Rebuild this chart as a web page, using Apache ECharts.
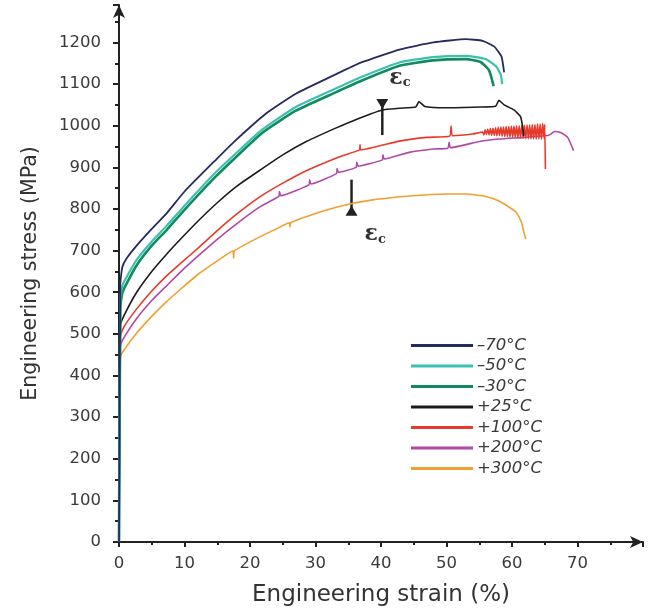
<!DOCTYPE html>
<html>
<head>
<meta charset="utf-8">
<script src="https://cdn.jsdelivr.net/npm/echarts@6/dist/echarts.min.js"></script>
<style>
  html, body { margin: 0; padding: 0; background: #fff; }
  #chart { width: 649px; height: 612px; }
</style>
</head>
<body>
<div id="chart"></div>
<script>
// Series names and colours (legend order)
const seriesNames = ['\u201370\u00B0C', '\u201350\u00B0C', '\u201330\u00B0C', '+25\u00B0C', '+100\u00B0C', '+200\u00B0C', '+300\u00B0C'];
const seriesColors = ['#262b5e', '#3cc0b4', '#138a5e', '#1c1c1c', '#e83a2a', '#b048a8', '#f0a030'];
const seriesWidths = [1.8, 2.2, 2.6, 1.6, 1.6, 1.6, 1.6];

// [strain %, stress MPa]
const minus70 = [[0,0],[0.2,620],[0.5,660],[1.2,682],[2.7,712],[5,752],[7.3,790],[10,842],[14.9,920],[17.6,962],[22.5,1030],[27,1077],[32.9,1122],[37,1152],[42.8,1183],[48,1200],[53,1208],[55.5,1204],[57.3,1190],[58.4,1166],[58.8,1128]];
const minus50 = [[0,0],[0.2,585],[0.5,615],[1,632],[2.7,678],[5,722],[7.3,760],[10,808],[14.9,890],[21.8,990],[27,1045],[32.9,1088],[37,1117],[42.8,1152],[48,1165],[53,1168],[56,1160],[57.6,1142],[58.3,1122],[58.5,1100]];
const minus30 = [[0,0],[0.2,560],[0.5,598],[1,616],[2.7,665],[5,712],[7.3,750],[10,798],[14.9,880],[21.8,982],[27,1036],[32.9,1079],[37,1108],[42.8,1144],[48,1157],[53,1160],[55.2,1153],[56.5,1133],[57.2,1095]];
const plus25 = [[0,0],[0.2,520],[0.8,545],[2.7,600],[5,650],[7.3,692],[9.3,726],[12,770],[15,815],[18,855],[21.5,893],[25,930],[28.6,962],[32.9,993],[36.5,1017],[40.2,1038],[42.8,1042],[45.3,1045],[45.8,1058],[46.7,1046],[50,1043],[55,1045],[57.5,1047],[58,1061],[58.8,1050],[60.3,1038],[61.3,1022],[61.6,1000],[61.8,975]];
const plus100 = [[0,0],[0.2,495],[0.8,518],[2.7,560],[5,603],[7.3,640],[9.3,668],[12,705],[15,748],[18,788],[21.5,829],[25,862],[28.6,892],[33.6,925],[36.7,942],[36.8,954],[36.9,942],[42.8,963],[47,972],[50.5,975],[50.7,999],[50.9,976],[54,980],[55.5,985],
  [55.7,978],[55.9,990],[56.1,979],[56.3,992],[56.5,978],[56.7,993],[56.9,977],[57.1,994],[57.3,977],[57.5,995],[57.7,976],[57.9,996],[58.1,976],[58.3,997],[58.5,975],[58.7,997],[58.9,974],[59.1,998],[59.3,974],[59.5,998],[59.7,973],[59.9,999],[60.1,972],[60.3,999],[60.5,972],[60.7,1000],[60.9,971],[61.1,1000],[61.3,970],[61.5,1001],[61.7,970],[61.9,1001],[62.1,969],[62.3,1002],[62.5,969],[62.7,1002],[62.9,968],[63.1,1003],[63.3,968],[63.5,1003],[63.7,968],[63.9,1004],[64.1,968],[64.3,1004],[64.5,968],[64.7,1005],[64.9,970],[65,1003],[65.1,896]];
const plus200 = [[0,0],[0.2,470],[0.8,492],[2.7,537],[5,580],[7.3,616],[10,658],[14.9,726],[18,765],[21.5,805],[24.4,830],[24.5,842],[24.7,832],[29,858],[29.1,870],[29.3,860],[33.2,885],[33.3,897],[33.5,888],[36.2,900],[36.3,912],[36.5,903],[40.2,918],[40.3,930],[40.5,920],[44.3,936],[48,944],[50.2,946],[50.4,960],[50.6,947],[55,962],[58,968],[62,972],[65.6,977],[66.5,986],[67.5,983],[68.5,972],[69.4,940]];
const plus300 = [[0,0],[0.2,445],[0.8,462],[2.7,502],[5,542],[7.3,578],[9.3,606],[12,642],[14.9,674],[17.4,699],[17.5,682],[17.6,699],[21.5,733],[24,752],[26,767],[26.1,757],[26.2,767],[29,784],[33.6,806],[38,820],[44.3,831],[50,836],[53,836],[56,830],[58,819],[60,800],[60.6,793],[61.4,770],[61.8,745],[62.1,728]];

// critical strain markers: [strain, stress at tip, direction]
const ecMarks = [[40.2, 1040, 'down'], [35.5, 808, 'up']];

const allData = [minus70, minus50, minus30, plus25, plus100, plus200, plus300];

const FONT = 'DejaVu Sans, Verdana, sans-serif';

const chart = echarts.init(document.getElementById('chart'));

const option = {
  backgroundColor: '#fff',
  animation: false,
  grid: {
    left: 119,
    right: 6,
    top: 5,
    bottom: 68
  },
  legend: {
    orient: 'vertical',
    left: 406,
    top: 332,
    icon: 'rect',
    itemWidth: 62,
    itemHeight: 3,
    itemGap: 3.5,
    data: seriesNames,
    textStyle: {
      fontFamily: FONT,
      fontStyle: 'italic',
      fontSize: 16.5,
      lineHeight: 17,
      color: '#3a3a3a',
      padding: [0, 0, 0, -1]
    }
  },
  xAxis: {
    type: 'value',
    min: 0,
    max: 80,
    interval: 10,
    name: 'Engineering strain (%)',
    nameLocation: 'middle',
    nameGap: 42,
    nameTextStyle: {
      fontFamily: FONT,
      fontSize: 23,
      color: '#333'
    },
    axisLine: {
      symbol: ['none', 'arrow'],
      symbolSize: [9, 13],
      lineStyle: { color: '#222', width: 2 }
    },
    axisTick: { inside: false, length: 5, lineStyle: { color: '#222', width: 2 } },
    minorTick: { show: true, splitNumber: 2, length: 3, lineStyle: { color: '#222', width: 2 } },
    axisLabel: {
      showMaxLabel: false,
      margin: 13,
      formatter: v => String(v),
      fontFamily: FONT,
      fontSize: 16.5,
      color: '#3a3a3a'
    },
    splitLine: { show: false }
  },
  yAxis: {
    type: 'value',
    min: 0,
    max: 1290,
    interval: 100,
    name: 'Engineering stress (MPa)',
    nameLocation: 'middle',
    nameGap: 78,
    nameTextStyle: {
      fontFamily: FONT,
      fontSize: 20.5,
      color: '#333'
    },
    axisLine: {
      symbol: ['none', 'arrow'],
      symbolSize: [9, 13],
      lineStyle: { color: '#222', width: 2 }
    },
    axisTick: { inside: false, length: 6, lineStyle: { color: '#222', width: 2 } },
    minorTick: { show: true, splitNumber: 2, length: 4, lineStyle: { color: '#222', width: 2 } },
    axisLabel: {
      showMaxLabel: false,
      margin: 18,
      formatter: v => String(v),
      fontFamily: FONT,
      fontSize: 16.5,
      color: '#3a3a3a'
    },
    splitLine: { show: false }
  },
  series: seriesNames.map((name, i) => ({
    name: name,
    type: 'line',
    data: allData[i],
    showSymbol: false,
    symbol: 'none',
    smooth: 0.15,
    z: 10 - i,
    lineStyle: { color: seriesColors[i], width: seriesWidths[i] },
    itemStyle: { color: seriesColors[i] }
  }))
};

chart.setOption(option);

// epsilon_c annotations placed through the axis scales
const graphics = [];
ecMarks.forEach(([sx, sy, dir]) => {
  const tip = chart.convertToPixel({ gridIndex: 0 }, [sx, sy]);
  const len = 26;
  const sign = dir === 'down' ? -1 : 1;
  const tail = [tip[0], tip[1] - sign * len];
  graphics.push({
    type: 'line',
    shape: { x1: tail[0], y1: tail[1], x2: tip[0], y2: tip[1] + sign * 6 },
    style: { stroke: '#222', lineWidth: 2.5 }
  });
  graphics.push({
    type: 'polygon',
    shape: { points: [[tip[0] - 6, tip[1] + sign * 10], [tip[0] + 6, tip[1] + sign * 10], [tip[0], tip[1]]] },
    style: { fill: '#222' }
  });
  const tx = dir === 'down' ? tip[0] + 7 : tip[0] + 13;
  const ty = dir === 'down' ? tip[1] - 42 : tip[1] + 18;
  graphics.push({
    type: 'text',
    left: tx,
    top: ty,
    style: {
      text: '{e|\u03B5}{c|c}',
      rich: {
        e: { fontFamily: 'DejaVu Serif, serif', fontSize: 22, fontWeight: 'bold', fill: '#333' },
        c: { fontFamily: 'DejaVu Serif, serif', fontSize: 13, fontWeight: 'bold', fill: '#333', verticalAlign: 'bottom', padding: [10, 0, 0, 0] }
      }
    }
  });
});
chart.setOption({ graphic: graphics });
</script>
</body>
</html>
